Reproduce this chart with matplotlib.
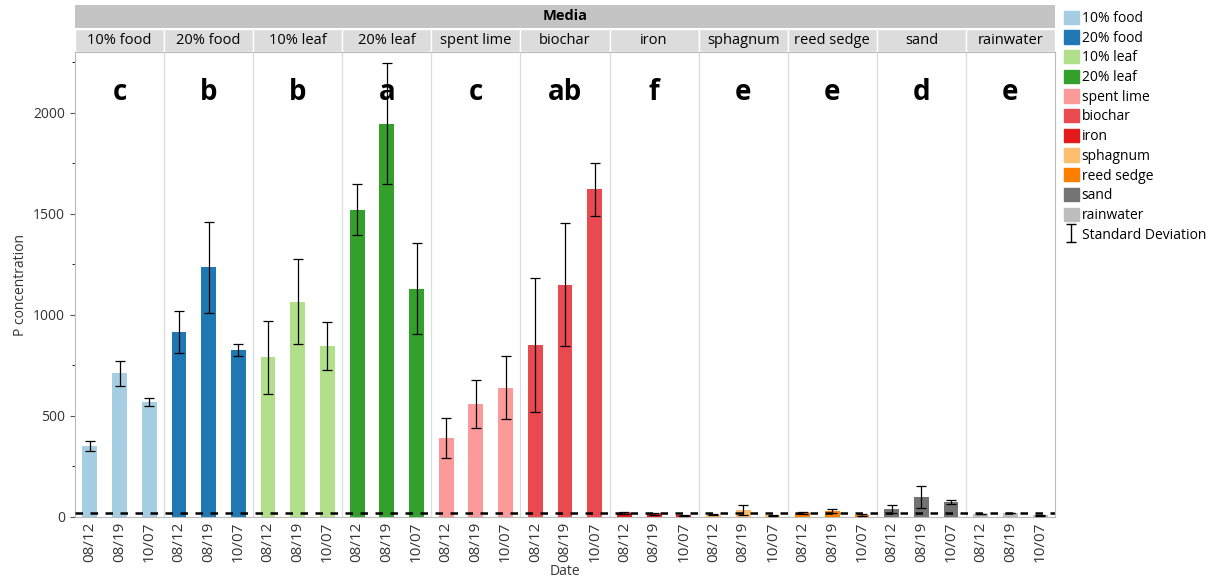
import matplotlib.pyplot as plt
from matplotlib.lines import Line2D
from matplotlib.patches import Patch, Rectangle
from matplotlib.path import Path
from matplotlib.ticker import MultipleLocator
import numpy as np

plt.rcParams['font.family'] = ['Open Sans', 'DejaVu Sans']

media = ['10% food', '20% food', '10% leaf', '20% leaf', 'spent lime', 'biochar',
         'iron', 'sphagnum', 'reed sedge', 'sand', 'rainwater']
dates = ['08/12', '08/19', '10/07']
colors = ['#a6cee3', '#1f78b4', '#b2df8a', '#33a02c', '#fb9a99', '#e84a4f',
          '#e31a1c', '#fdbf6f', '#ff7f00', '#737373', '#bdbdbd']
letters = ['c', 'b', 'b', 'a', 'c', 'ab', 'f', 'e', 'e', 'd', 'e']

# mean P concentration per medium, one value per sampling date
means = [
    [350, 710, 570],
    [915, 1235, 825],
    [790, 1065, 845],
    [1520, 1945, 1130],
    [390, 560, 640],
    [850, 1150, 1620],
    [20, 15, 8],
    [12, 35, 8],
    [20, 30, 12],
    [40, 100, 75],
    [15, 20, 8],
]
sds = [
    [25, 60, 20],
    [105, 225, 30],
    [180, 210, 120],
    [125, 300, 225],
    [100, 120, 155],
    [330, 305, 130],
    [5, 5, 3],
    [3, 25, 4],
    [3, 10, 5],
    [20, 55, 10],
    [2, 0, 3],
]
detection_limit = 20

W, H = 1217, 577
fig = plt.figure(figsize=(W / 100, H / 100), dpi=100)
left, right = 75 / W, 1055 / W
ax = fig.add_axes([left, 1 - 517 / H, right - left, (517 - 52) / H])

n = len(media)
for g in range(n):
    x = g * 3 + np.arange(3)
    ax.bar(x, means[g], width=0.5, color=colors[g], zorder=2)
    ax.errorbar(x, means[g], yerr=sds[g], fmt='none', ecolor='black',
                elinewidth=0.9, capsize=3.5, capthick=0.9, zorder=3)
    ax.text(g * 3 + 1, 2100, letters[g], ha='center', va='center',
            fontsize=20, fontweight='bold')
    if g > 0:
        ax.axvline(g * 3 - 0.5, color='#dddddd', lw=0.9, zorder=1)

ax.axhline(detection_limit, color='black', ls=(0, (3, 3)), lw=1.8, zorder=4)

ax.set_xlim(-0.5, n * 3 - 0.5)
ax.set_ylim(0, 2300)
ax.set_xticks(np.arange(n * 3))
ax.set_xticklabels(dates * n, rotation=90, fontsize=11, color='#333333')
ax.yaxis.set_major_locator(MultipleLocator(500))
ax.yaxis.set_minor_locator(MultipleLocator(250))
ax.tick_params(axis='y', labelsize=10, colors='#555555', labelcolor='#333333')
ax.tick_params(axis='x', length=0, pad=3)
ax.set_ylabel('P concentration', fontsize=10, color='#333333')
ax.set_xlabel('Date', fontsize=10, color='#333333', labelpad=2)
for s in ax.spines.values():
    s.set_color('#bbbbbb')

# facet header: "Media" band and one strip per medium
top = fig.add_axes([left, 1 - 28 / H, right - left, 23 / H])
top.set_xlim(0, 1)
top.set_ylim(0, 1)
top.axis('off')
top.add_patch(Rectangle((0, 0), 1, 1, color='#c4c4c4'))
top.text(0.5, 0.5, 'Media', ha='center', va='center', fontsize=10.5, fontweight='bold')

strip = fig.add_axes([left, 1 - 52 / H, right - left, 23 / H])
strip.set_xlim(-0.5, n * 3 - 0.5)
strip.set_ylim(0, 1)
strip.axis('off')
for g in range(n):
    strip.add_patch(Rectangle((g * 3 - 0.5, 0), 3, 1, facecolor='#dcdcdc',
                              edgecolor='white', lw=1))
    strip.text(g * 3 + 1, 0.48, media[g], ha='center', va='center', fontsize=10.5)

# I-beam marker for the error bar legend entry
ibeam = Path([(-0.5, 1), (0.5, 1), (0, 1), (0, -1), (-0.5, -1), (0.5, -1)],
             [Path.MOVETO, Path.LINETO, Path.MOVETO, Path.LINETO, Path.MOVETO, Path.LINETO])
handles = [Patch(color=c, label=m) for c, m in zip(colors, media)]
handles.append(Line2D([], [], ls='none', marker=ibeam, markersize=13,
                      markeredgecolor='black', markeredgewidth=1,
                      label='Standard Deviation'))
fig.legend(handles=handles, loc='upper left', bbox_to_anchor=(1058 / W, 1 - 5 / H),
           frameon=False, fontsize=10, handlelength=1.1, handleheight=1.1,
           handletextpad=0.2, labelspacing=0.31, borderaxespad=0)

fig.savefig('out.png', dpi=100)
